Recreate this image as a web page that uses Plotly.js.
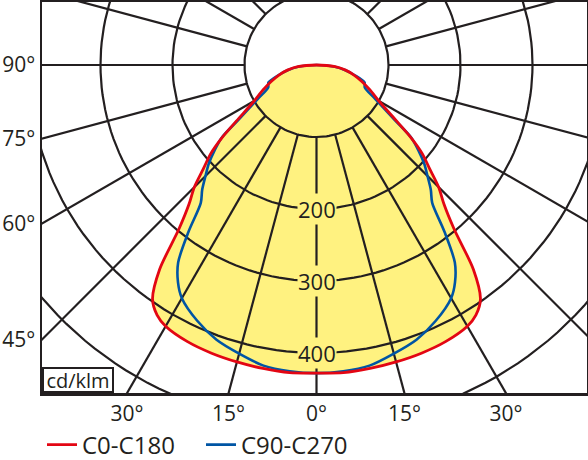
<!DOCTYPE html>
<html>
<head>
<meta charset="utf-8">
<script src="https://cdn.plot.ly/plotly-3.0.1.min.js"></script>
<style>
  html, body { margin: 0; padding: 0; background: #fff; }
  #chart { width: 588px; height: 460px; }
</style>
</head>
<body>
<div id="chart"></div>
<script>
// gamma angles (deg from nadir) and intensities in cd/klm
let gamma    = [0, 5, 10, 15, 20, 25, 30, 32.5, 35, 37.5, 40, 42.5, 45, 47.5, 50, 52.5, 55, 60, 65, 70, 75, 80, 85, 90];
let c0_c180  = [428, 429, 428, 427, 426, 424, 419, 412, 397, 358, 297, 262, 240, 213, 192, 165, 136, 100, 82, 67, 54, 41, 26, 0];
let c90_c270 = [428, 427, 424, 415, 406, 392, 374, 358, 335, 292, 250, 235, 218, 203, 185, 166, 132, 94, 74, 71, 55, 40, 24, 0];

let seriesNames = ['C0-C180', 'C90-C270'];

let rings = [100, 200, 300, 400, 500];
let ringLabels = [200, 300, 400];
let spokeStep = 15;

let sideTickAngles = [90, 75, 60, 45];
let sideTickText = ['90°', '75°', '60°', '45°'];
let bottomTickAngles = [-30, -15, 0, 15, 30];
let bottomTickText = ['30°', '15°', '0°', '15°', '30°'];

// visible window in cd/klm (same px per unit on both axes)
let xRange = [-381.25, 375.7];
let yRange = [-455.6, 87.5];

let gridColor = '#231f20';
let fillYellow = '#fff280';
let red = '#e30613';
let blue = '#0055a4';
let font = 'Open Sans, Liberation Sans, sans-serif';

const rad = Math.PI / 180;

function toX(a, r) { return r * Math.sin(a * rad); }
function toY(a, r) { return -r * Math.cos(a * rad); }

// mirror a half-profile into a closed curve: left half then right half
function profile(values) {
  let x = [], y = [];
  for (let i = gamma.length - 1; i >= 0; i--) {
    x.push(toX(-gamma[i], values[i]));
    y.push(toY(-gamma[i], values[i]));
  }
  for (let i = 1; i < gamma.length; i++) {
    x.push(toX(gamma[i], values[i]));
    y.push(toY(gamma[i], values[i]));
  }
  return { x, y };
}

let red_c = profile(c0_c180);
let blue_c = profile(c90_c270);

// grid rings
let gx = [], gy = [];
rings.forEach(function (r) {
  for (let a = 0; a <= 360; a += 2) {
    gx.push(toX(a, r));
    gy.push(toY(a, r));
  }
  gx.push(null); gy.push(null);
});
// spokes start on the 100 ring
for (let a = -180; a < 180; a += spokeStep) {
  gx.push(toX(a, rings[0]), toX(a, 900), null);
  gy.push(toY(a, rings[0]), toY(a, 900), null);
}

let fillTrace = {
  x: red_c.x, y: red_c.y,
  mode: 'lines',
  fill: 'toself',
  fillcolor: fillYellow,
  line: { width: 0, shape: 'spline', smoothing: 0.8 },
  showlegend: false,
  hoverinfo: 'skip'
};

let gridTrace = {
  x: gx, y: gy,
  mode: 'lines',
  line: { color: gridColor, width: 2.2 },
  showlegend: false,
  hoverinfo: 'skip'
};

let blueTrace = {
  x: blue_c.x, y: blue_c.y,
  mode: 'lines',
  name: seriesNames[1],
  legendrank: 2,
  line: { color: blue, width: 2.6, shape: 'spline', smoothing: 0.8 }
};

let redTrace = {
  x: red_c.x, y: red_c.y,
  mode: 'lines',
  name: seriesNames[0],
  legendrank: 1,
  line: { color: red, width: 2.8, shape: 'spline', smoothing: 0.8 }
};

let annotations = ringLabels.map(function (v) {
  return {
    x: 0, y: -v,
    xref: 'x', yref: 'y',
    text: String(v),
    showarrow: false,
    bgcolor: fillYellow,
    borderpad: 0,
    font: { family: font, size: 22, color: '#231f20' }
  };
});

annotations.push({
  x: 0, y: 0,
  xref: 'paper', yref: 'paper',
  xanchor: 'left', yanchor: 'bottom',
  text: 'cd/klm',
  showarrow: false,
  width: 66,
  height: 20,
  bgcolor: '#fff',
  bordercolor: gridColor,
  borderwidth: 2,
  borderpad: 1,
  font: { family: font, size: 20, color: '#231f20' }
});

let layout = {
  width: 588,
  height: 460,
  margin: { l: 42, r: 1, t: 2, b: 67, autoexpand: false },
  paper_bgcolor: '#fff',
  plot_bgcolor: '#fff',
  font: { family: font, size: 21, color: '#231f20' },
  showlegend: true,
  legend: {
    orientation: 'h',
    x: 0.0, xanchor: 'left',
    y: -0.133, yanchor: 'middle',
    entrywidth: 114,
    entrywidthmode: 'pixels',
    font: { family: font, size: 24, color: '#231f20' }
  },
  hovermode: false,
  xaxis: {
    range: xRange,
    showgrid: false,
    zeroline: false,
    showline: true,
    mirror: true,
    linecolor: gridColor,
    linewidth: 2.5,
    ticks: '',
    tickmode: 'array',
    tickvals: bottomTickAngles.map(function (a) { return -yRange[0] * Math.tan(a * rad); }),
    ticktext: bottomTickText,
    fixedrange: true
  },
  yaxis: {
    range: yRange,
    showgrid: false,
    zeroline: false,
    showline: true,
    mirror: true,
    linecolor: gridColor,
    linewidth: 2.5,
    ticks: '',
    tickmode: 'array',
    tickvals: sideTickAngles.map(function (a) { return xRange[0] / Math.tan(a * rad); }),
    ticktext: sideTickText,
    fixedrange: true
  },
  annotations: annotations
};

Plotly.newPlot('chart', [fillTrace, gridTrace, blueTrace, redTrace], layout, { staticPlot: true, displayModeBar: false });
</script>
</body>
</html>
